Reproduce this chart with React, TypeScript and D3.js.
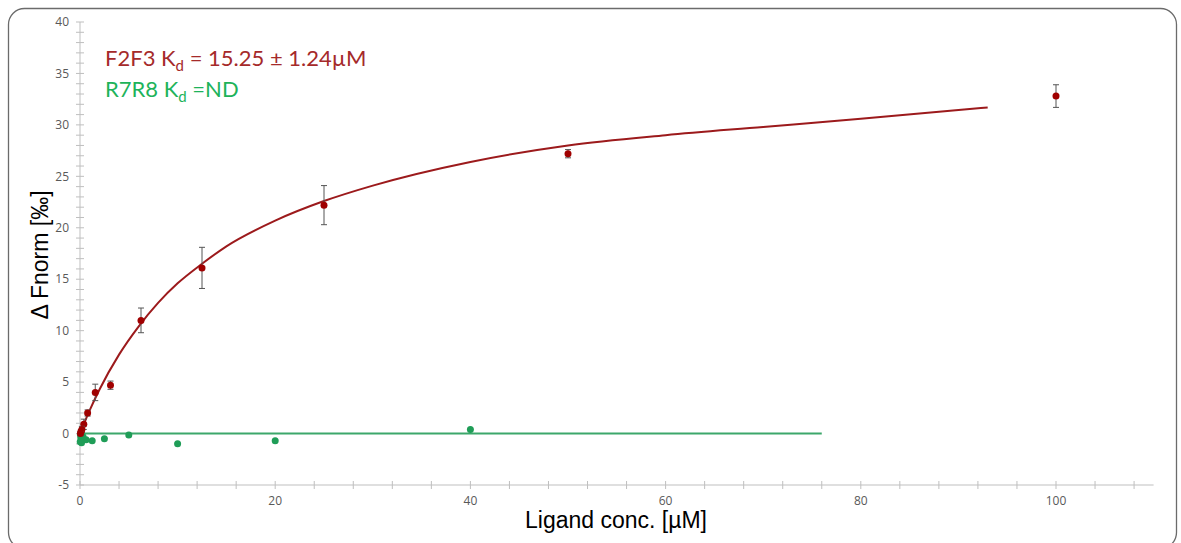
import { useEffect, useRef } from 'react';
import * as d3 from 'd3';

// F2F3 measured points (conc µM, ΔFnorm ‰, error)
const f2f3Conc = [100, 50, 25, 12.5, 6.25, 3.125, 1.5625, 0.78, 0.39, 0.195, 0.098, 0.049];
const f2f3Val = [32.8, 27.2, 22.2, 16.1, 11.0, 4.7, 4.0, 2.0, 0.9, 0.4, 0.2, 0.0];
const f2f3Err = [1.1, 0.4, 1.9, 2.0, 1.2, 0.4, 0.8, 0.3, 0.5, 0.3, 0.2, 0.2];

// fitted binding curve
const fitConc = [0, 0.5, 1, 2, 4, 6, 8, 10, 12.5, 15, 20, 25, 30, 40, 50, 60, 70, 80, 93];
const fitVal = [0, 1.17, 2.27, 4.28, 7.67, 10.4, 12.7, 14.6, 16.5, 18.2, 20.7, 22.6, 24.1, 26.4, 28.0, 29.0, 29.8, 30.6, 31.7];

// R7R8 measured points
const r7r8Conc = [40, 20, 10, 5, 2.5, 1.25, 0.625, 0.31, 0.16, 0.08, 0.04, 0.02];
const r7r8Val = [0.4, -0.7, -1.0, -0.15, -0.5, -0.7, -0.6, -0.3, -0.9, -0.4, -0.1, -0.8];
const r7r8Line = [0, 76];

const xTickLabels = [0, 20, 40, 60, 80, 100];
const yTickLabels = [-5, 0, 5, 10, 15, 20, 25, 30, 35, 40];

const RED = '#9c1a1c';
const RED_DOT = '#a00000';
const GREEN = '#3ca76b';
const GREEN_DOT = '#1f9d57';

const App = () => {
  const ref = useRef<SVGSVGElement | null>(null);

  useEffect(() => {
    if (!ref.current) return;
    const svg = d3.select(ref.current);
    svg.selectAll('*').remove();

    const x = d3.scaleLinear().domain([0, 110]).range([80, 1153.6]);
    const y = d3.scaleLinear().domain([-5, 40]).range([485, 22]);

    // frame
    svg.append('rect')
      .attr('x', 8.5).attr('y', 8.5)
      .attr('width', 1168).attr('height', 540)
      .attr('rx', 16)
      .attr('fill', '#fff')
      .attr('stroke', '#6b6b6b')
      .attr('stroke-width', 1.3);

    const axisColor = '#bfbfbf';
    const labelColor = '#595959';

    // x axis
    svg.append('line')
      .attr('x1', x(0)).attr('x2', x(110))
      .attr('y1', y(-5)).attr('y2', y(-5))
      .attr('stroke', axisColor).attr('stroke-width', 1);
    d3.range(0, 109, 4).forEach((t) => {
      svg.append('line')
        .attr('x1', x(t)).attr('x2', x(t))
        .attr('y1', y(-5) - 4).attr('y2', y(-5) + 4)
        .attr('stroke', axisColor);
    });
    xTickLabels.forEach((t) => {
      svg.append('text')
        .attr('x', x(t)).attr('y', y(-5) + 20)
        .attr('text-anchor', 'middle')
        .attr('font-family', 'Open Sans, sans-serif')
        .attr('font-size', 12)
        .attr('fill', labelColor)
        .text(t);
    });

    // y axis
    svg.append('line')
      .attr('x1', x(0)).attr('x2', x(0))
      .attr('y1', y(-5)).attr('y2', y(40))
      .attr('stroke', axisColor);
    d3.range(-5, 41, 1).forEach((t) => {
      svg.append('line')
        .attr('x1', x(0) - 4).attr('x2', x(0) + 4)
        .attr('y1', y(t)).attr('y2', y(t))
        .attr('stroke', axisColor);
    });
    yTickLabels.forEach((t) => {
      svg.append('text')
        .attr('x', 69).attr('y', y(t))
        .attr('dy', '0.35em')
        .attr('text-anchor', 'end')
        .attr('font-family', 'Open Sans, sans-serif')
        .attr('font-size', 12)
        .attr('fill', labelColor)
        .text(t);
    });

    // axis titles
    svg.append('text')
      .attr('transform', `translate(48,255) rotate(-90)`)
      .attr('text-anchor', 'middle')
      .attr('font-family', 'Liberation Sans, Arial, sans-serif')
      .attr('font-size', 23)
      .attr('fill', '#000')
      .text('Δ Fnorm [‰]');
    svg.append('text')
      .attr('x', 616).attr('y', 528)
      .attr('text-anchor', 'middle')
      .attr('font-family', 'Liberation Sans, Arial, sans-serif')
      .attr('font-size', 23)
      .attr('fill', '#000')
      .text('Ligand conc. [µM]');

    // R7R8 line + points
    svg.append('line')
      .attr('x1', x(r7r8Line[0])).attr('x2', x(r7r8Line[1]))
      .attr('y1', y(0)).attr('y2', y(0))
      .attr('stroke', GREEN).attr('stroke-width', 2);
    r7r8Conc.forEach((c, i) => {
      svg.append('circle')
        .attr('cx', x(c)).attr('cy', y(r7r8Val[i]))
        .attr('r', 3.5)
        .attr('fill', GREEN_DOT);
    });

    // F2F3 fit curve
    const line = d3.line<number>()
      .x((d) => x(d))
      .y((_, i) => y(fitVal[i]))
      .curve(d3.curveMonotoneX);
    svg.append('path')
      .attr('d', line(fitConc) as string)
      .attr('fill', 'none')
      .attr('stroke', RED)
      .attr('stroke-width', 2);

    // F2F3 error bars + points
    f2f3Conc.forEach((c, i) => {
      const cx = x(c);
      const y1 = y(f2f3Val[i] + f2f3Err[i]);
      const y2 = y(f2f3Val[i] - f2f3Err[i]);
      svg.append('line').attr('x1', cx).attr('x2', cx).attr('y1', y1).attr('y2', y2)
        .attr('stroke', '#555').attr('stroke-width', 1);
      [y1, y2].forEach((yy) => {
        svg.append('line').attr('x1', cx - 3).attr('x2', cx + 3).attr('y1', yy).attr('y2', yy)
          .attr('stroke', '#555').attr('stroke-width', 1);
      });
      svg.append('circle')
        .attr('cx', cx).attr('cy', y(f2f3Val[i]))
        .attr('r', 3.5)
        .attr('fill', RED_DOT);
    });

    // annotations
    const t1 = svg.append('text')
      .attr('x', 105).attr('y', 66)
      .attr('font-family', 'Lato, Open Sans, sans-serif')
      .attr('font-size', 22)
      .attr('fill', '#a52a2a');
    t1.append('tspan').text('F2F3 K');
    t1.append('tspan').attr('dy', 5).attr('font-size', 15).text('d');
    t1.append('tspan').attr('dy', -5).text(' = 15.25 ± 1.24µM');

    const t2 = svg.append('text')
      .attr('x', 105).attr('y', 97)
      .attr('font-family', 'Lato, Open Sans, sans-serif')
      .attr('font-size', 22)
      .attr('fill', '#1db35a');
    t2.append('tspan').text('R7R8 K');
    t2.append('tspan').attr('dy', 5).attr('font-size', 15).text('d');
    t2.append('tspan').attr('dy', -5).text(' =ND');
  }, []);

  return (
    <svg ref={ref} width={1181} height={543}
      style={{ position: 'absolute', left: 0, top: 0, display: 'block' }} />
  );
};

export default App;
